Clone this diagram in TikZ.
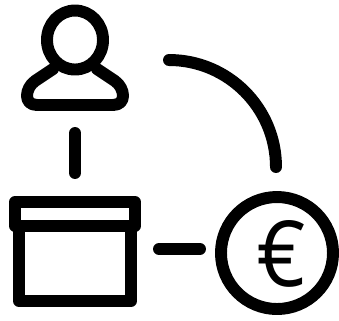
\documentclass[tikz,border=0pt]{standalone}
\usepackage{fontspec}
\setmainfont{Open Sans}
\usetikzlibrary{positioning,calc}

\begin{document}
\begin{tikzpicture}[x=0.01cm,y=-0.01cm,
          icon/.style={line width=3.4pt,black,line cap=round,line join=round},
          sign/.style={inner sep=0pt,font=\fontsize{24}{24}\selectfont}]
          \useasboundingbox (0,0) rectangle (339,320);

          \coordinate (linkatop) at (75,133);
          \coordinate (linkabot) at (75,173);
          \coordinate (linkbleft) at (159,249);
          \coordinate (linkbright) at (200,249);
          \coordinate (arcstart) at (169,60);
          \coordinate (arcend) at (276,167);

          % person
          \draw[icon] (75,40) ellipse (28 and 29.5);
          \draw[icon] (53,69) -- (35,81) .. controls (25,88) and (23,105) .. (37,105) -- (113,105) .. controls (127,105) and (125,88) .. (115,81) -- (97,69);

          % box
          \draw[icon] (15,202) rectangle (135,226);
          \draw[icon] (19,226) -- (19,301) -- (131,301) -- (131,226);

          % coin
          \draw[icon] (277,253) circle (56);
          \node[sign] (euro) at (281,254) {\scalebox{1}[1.08]{€}};

          \draw[icon] (linkatop) -- (linkabot);
          \draw[icon] (linkbleft) -- (linkbright);
          \draw[icon] (arcstart) .. controls (228,60) and (276,108) .. (arcend);
        \end{tikzpicture}
\end{document}
